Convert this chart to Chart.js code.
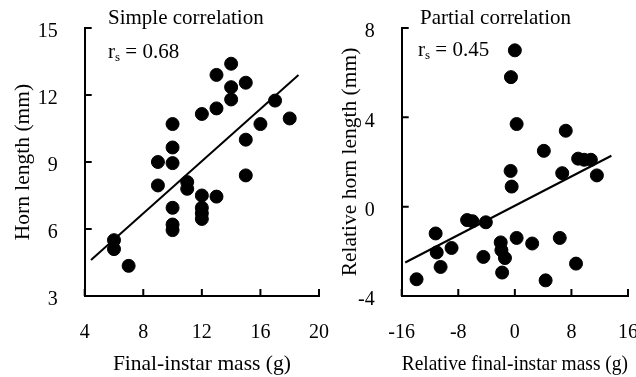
<!DOCTYPE html>
<html lang="en">
<head>
  <meta charset="UTF-8" />
  <title>Horn length vs final-instar mass</title>
  <style>
    html, body { margin: 0; padding: 0; background: #fff; overflow: hidden; }
    #wrap { position: relative; width: 636px; height: 377px; overflow: hidden; }
    canvas { position: absolute; }
    .note { position: absolute; font-family: 'Liberation Serif', 'Times New Roman', serif; font-size: 21px; line-height: 1; color: #000; white-space: nowrap; }
    .note sub { font-size: 13px; vertical-align: -3px; line-height: 0; }
  </style>
</head>
<body>
<div id="wrap">
  <canvas id="leftChart" width="354" height="388" style="left:0;top:-11px"></canvas>
  <canvas id="rightChart" width="327" height="388" style="left:336px;top:-11px"></canvas>
  <div class="note" style="left:108px;top:7px">Simple correlation</div>
  <div class="note" style="left:108px;top:41px">r<sub>s</sub> = 0.68</div>
  <div class="note" style="left:420px;top:7px">Partial correlation</div>
  <div class="note" style="left:418px;top:39px">r<sub>s</sub> = 0.45</div>
</div>

<script src="https://cdn.jsdelivr.net/npm/chart.js"></script>
<script>
// left panel: raw values
const massX = [6, 6, 7, 9, 9, 10, 10, 10, 10, 10, 10, 11, 11, 12, 12, 12, 12, 12, 13, 13, 13, 14, 14, 14, 15, 15, 15, 16, 17, 18];
const hornY = [5.5, 5.1, 4.35, 9.0, 7.95, 10.7, 9.65, 8.95, 6.95, 6.2, 5.95, 8.1, 7.8, 11.15, 7.5, 6.95, 6.7, 6.45, 12.9, 11.4, 7.45, 13.4, 12.35, 11.8, 12.55, 10.0, 8.4, 10.7, 11.75, 10.95];
const fitLeftX = [4.43, 18.6];
const fitLeftY = [4.61, 12.9];

// right panel: residuals
const relMassX = [-13.9, -11.2, -11.05, -10.5, -8.95, -6.75, -6.0, -4.1, -4.45, -2.0, -1.9, -1.4, -1.8, -0.6, -0.45, -0.55, 0, 0.25, 0.25, 2.45, 4.1, 4.35, 6.35, 6.7, 7.2, 8.65, 8.95, 9.8, 10.75, 11.6];
const relHornY = [-3.25, -1.2, -2.05, -2.7, -1.85, -0.6, -0.65, -0.7, -2.25, -1.6, -1.95, -2.3, -2.95, 1.6, 0.9, 5.8, 7.0, 3.7, -1.4, -1.65, 2.5, -3.3, -1.4, 1.5, 3.4, -2.55, 2.15, 2.1, 2.1, 1.4];
const fitRightX = [-15.5, 13.65];
const fitRightY = [-2.5, 2.28];

const SERIF = "'Liberation Serif', 'Times New Roman', serif";
Chart.defaults.font.family = SERIF;
Chart.defaults.color = '#000';

const toPts = (xs, ys) => xs.map((x, i) => ({ x, y: ys[i] }));

// short tick marks pointing into the plot
const innerTicks = {
  id: 'innerTicks',
  afterDraw(chart) {
    const { ctx, chartArea, scales } = chart;
    ctx.save();
    ctx.strokeStyle = '#000';
    ctx.lineWidth = 2;
    ctx.beginPath();
    scales.x.ticks.forEach(t => {
      const px = scales.x.getPixelForValue(t.value);
      ctx.moveTo(px, chartArea.bottom);
      ctx.lineTo(px, chartArea.bottom - 7);
    });
    scales.y.ticks.forEach(t => {
      const py = scales.y.getPixelForValue(t.value);
      ctx.moveTo(chartArea.left, py);
      ctx.lineTo(chartArea.left + 7, py);
    });
    ctx.stroke();
    ctx.restore();
  }
};

function makePanel(id, cfg) {
  const axisStyle = {
    grid: { display: false, drawTicks: false },
    border: { display: true, color: '#000', width: 2 }
  };
  new Chart(document.getElementById(id), {
    type: 'scatter',
    data: {
      datasets: [
        {
          data: toPts(cfg.xs, cfg.ys),
          backgroundColor: '#000',
          borderColor: '#000',
          pointRadius: 6.5,
          pointHoverRadius: 6.5
        },
        {
          type: 'line',
          data: toPts(cfg.fitX, cfg.fitY),
          borderColor: '#000',
          borderWidth: 2,
          pointRadius: 0,
          fill: false
        }
      ]
    },
    options: {
      responsive: false,
      animation: false,
      events: [],
      layout: { padding: 0 },
      plugins: { legend: { display: false }, tooltip: { enabled: false } },
      scales: {
        x: {
          ...axisStyle,
          type: 'linear',
          min: cfg.xMin, max: cfg.xMax,
          ticks: { stepSize: cfg.xStep, padding: 25, maxRotation: 0, autoSkip: false, font: { size: 20 } },
          title: { display: true, text: cfg.xTitle, font: { size: 21.5 }, padding: { top: 0, bottom: 0 } },
          afterFit: (s) => { s.height = 81; }
        },
        y: {
          ...axisStyle,
          type: 'linear',
          min: cfg.yMin, max: cfg.yMax,
          ticks: { stepSize: cfg.yStep, padding: 27, labelOffset: 4, font: { size: 20 } },
          title: { display: true, text: cfg.yTitle, font: { size: 21.5 }, padding: { top: cfg.yTitlePad, bottom: 0 } },
          afterFit: (s) => { s.width = cfg.yWidth; }
        }
      }
    },
    plugins: [innerTicks]
  });
}

makePanel('leftChart', {
  xs: massX, ys: hornY, fitX: fitLeftX, fitY: fitLeftY,
  xMin: 4, xMax: 20, xStep: 4, yMin: 3, yMax: 15, yStep: 3,
  xTitle: 'Final-instar mass (g)', yTitle: 'Horn length (mm)',
  yWidth: 84.7, yTitlePad: 10
});

makePanel('rightChart', {
  xs: relMassX, ys: relHornY, fitX: fitRightX, fitY: fitRightY,
  xMin: -16, xMax: 16, xStep: 8, yMin: -4, yMax: 8, yStep: 4,
  xTitle: 'Relative final-instar mass (g)', yTitle: 'Relative horn length (mm)',
  yWidth: 65.7, yTitlePad: 1.5
});
</script>
</body>
</html>
